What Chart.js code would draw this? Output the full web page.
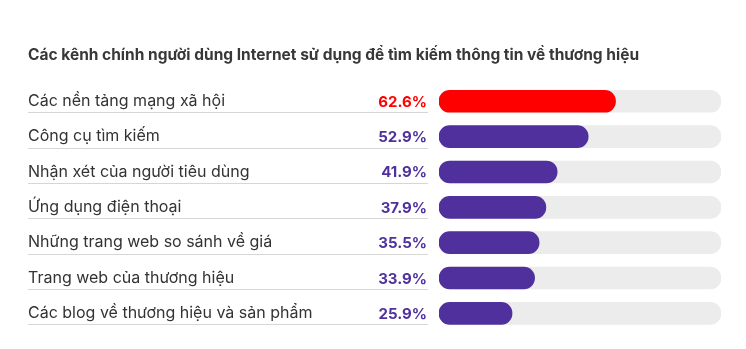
<!DOCTYPE html>
<html lang="vi">
<head>
<meta charset="utf-8">
<title>Kênh tìm kiếm thông tin thương hiệu</title>
<script src="https://cdn.jsdelivr.net/npm/chart.js@4.4.1/dist/chart.umd.min.js"></script>
<style>
  html, body { margin: 0; padding: 0; background: #ffffff; }
  #wrap { width: 746px; height: 349px; }
</style>
</head>
<body>
<div id="wrap"><canvas id="chart" width="746" height="349"></canvas></div>
<script>
// Kênh tìm kiếm và tỷ lệ người dùng (%)
const channels = [
  'Các nền tảng mạng xã hội',
  'Công cụ tìm kiếm',
  'Nhận xét của người tiêu dùng',
  'Ứng dụng điện thoại',
  'Những trang web so sánh về giá',
  'Trang web của thương hiệu',
  'Các blog về thương hiệu và sản phẩm'
];
const shares = [62.6, 52.9, 41.9, 37.9, 35.5, 33.9, 25.9];
const fullScale = [100, 100, 100, 100, 100, 100, 100];

const FONT = 'Inter, "Noto Sans", sans-serif';
const RED = '#ff0000';
const PURPLE = '#50309d';
const TEXT = '#333333';
const colorFor = i => (i === 0 ? RED : PURPLE);

// Percent labels next to the bars and the thin rule under each row
const rowDecor = {
  id: 'rowDecor',
  afterDatasetsDraw(chart) {
    const { ctx } = chart;
    const y = chart.scales.y;
    ctx.save();
    shares.forEach((v, i) => {
      const cy = y.getPixelForValue(i);
      ctx.strokeStyle = '#d6d6d6';
      ctx.lineWidth = 1;
      ctx.beginPath();
      ctx.moveTo(28, Math.round(cy + 11) + 0.5);
      ctx.lineTo(428, Math.round(cy + 11) + 0.5);
      ctx.stroke();
      ctx.fillStyle = colorFor(i);
      ctx.font = 'bold 15px ' + FONT;
      ctx.textAlign = 'right';
      ctx.textBaseline = 'middle';
      ctx.fillText(v.toFixed(1) + '%', 427, cy + 1);
    });
    ctx.restore();
  }
};

new Chart(document.getElementById('chart'), {
  type: 'bar',
  data: {
    labels: channels,
    datasets: [
      {
        data: shares,
        backgroundColor: shares.map((_, i) => colorFor(i)),
        borderRadius: 11,
        borderSkipped: false,
        barThickness: 22,
        grouped: false,
        order: 1
      },
      {
        data: fullScale,
        backgroundColor: '#ececec',
        borderRadius: 11,
        borderSkipped: false,
        barThickness: 22,
        grouped: false,
        order: 2
      }
    ]
  },
  options: {
    indexAxis: 'y',
    responsive: false,
    animation: false,
    layout: { padding: { left: 28, right: 25, top: 0, bottom: 18 } },
    plugins: {
      legend: { display: false },
      tooltip: { enabled: false },
      title: {
        display: true,
        text: 'Các kênh chính người dùng Internet sử dụng để tìm kiếm thông tin về thương hiệu',
        align: 'start',
        color: '#383838',
        font: { family: FONT, size: 15.5, weight: 'bold' },
        padding: { top: 46, bottom: 19 }
      }
    },
    scales: {
      x: { display: false, min: 0, max: 100 },
      y: {
        grid: { display: false },
        border: { display: false },
        ticks: {
          crossAlign: 'far',
          color: TEXT,
          font: { family: FONT, size: 16 },
          padding: 0
        },
        afterFit(scale) { scale.width = 411; }
      }
    }
  },
  plugins: [rowDecor]
});
</script>
</body>
</html>
